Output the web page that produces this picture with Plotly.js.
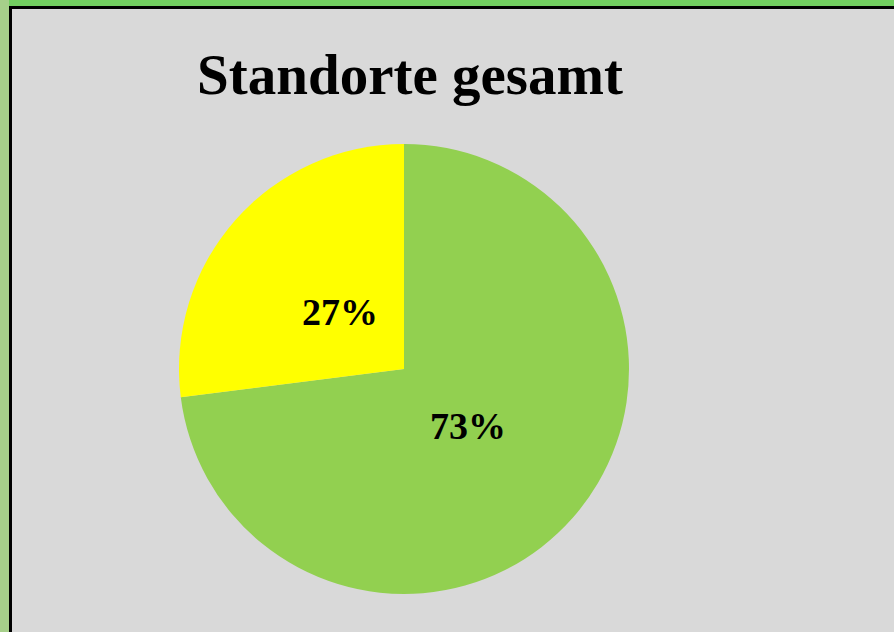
<!DOCTYPE html>
<html>
<head>
<meta charset="utf-8">
<script src="https://cdn.plot.ly/plotly-3.0.1.min.js"></script>
<style>html,body{margin:0;padding:0;background:#d9d9d9;}#chart{width:894px;height:632px;}</style>
</head>
<body>
<div id="chart"></div>
<script>
const categories = ["Grün", "Gelb"];
const values = [73, 27];
const sliceColors = ["#92d050", "#ffff00"];
const labelsText = ["73%", "27%"];

const W = 894, H = 632;
const px = v => v / W;
const py = v => 1 - v / H;

// pie geometry (pixels)
const CX = 404, CY = 369, R = 225, LABEL_FRAC = 0.38;

const total = values.reduce((a, b) => a + b, 0);
let cum = 0;
const annotations = values.map((v, i) => {
  const theta = 2 * Math.PI * (cum + v / 2) / total;
  cum += v;
  return {
    xref: "paper", yref: "paper",
    x: px(CX + R * LABEL_FRAC * Math.sin(theta)),
    y: py(CY - R * LABEL_FRAC * Math.cos(theta)),
    xanchor: "center", yanchor: "middle",
    text: "<b>" + labelsText[i] + "</b>",
    showarrow: false,
    font: {family: "Liberation Serif", size: 38, color: "#000000"}
  };
});

const data = [{
  type: "pie",
  labels: categories,
  values: values,
  textinfo: "none",
  sort: false,
  direction: "clockwise",
  rotation: 0,
  marker: {colors: sliceColors, line: {width: 0}},
  domain: {x: [px(CX - R), px(CX + R)], y: [py(CY + R), py(CY - R)]},
  hoverinfo: "label+percent",
  showlegend: false
}];

const layout = {
  width: W, height: H,
  margin: {l: 0, r: 0, t: 0, b: 0},
  paper_bgcolor: "#d9d9d9",
  plot_bgcolor: "#d9d9d9",
  showlegend: false,
  title: {
    text: "<b>Standorte gesamt</b>",
    font: {family: "Liberation Serif", size: 57, color: "#000000"},
    x: px(410), xanchor: "center",
    y: py(74), yanchor: "middle"
  },
  annotations: annotations,
  shapes: [
    {type: "rect", xref: "paper", yref: "paper", x0: 0, x1: 1, y0: py(6), y1: 1, fillcolor: "#72cf60", line: {width: 0}, layer: "above"},
    {type: "rect", xref: "paper", yref: "paper", x0: 0, x1: px(9), y0: 0, y1: 1, fillcolor: "#a6cf8a", line: {width: 0}, layer: "above"},
    {type: "rect", xref: "paper", yref: "paper", x0: px(9), x1: 1, y0: py(9), y1: py(6), fillcolor: "#000000", line: {width: 0}, layer: "above"},
    {type: "rect", xref: "paper", yref: "paper", x0: px(9), x1: px(12), y0: 0, y1: py(6), fillcolor: "#000000", line: {width: 0}, layer: "above"}
  ]
};

Plotly.newPlot("chart", data, layout, {displayModeBar: false, staticPlot: true});
</script>
</body>
</html>
